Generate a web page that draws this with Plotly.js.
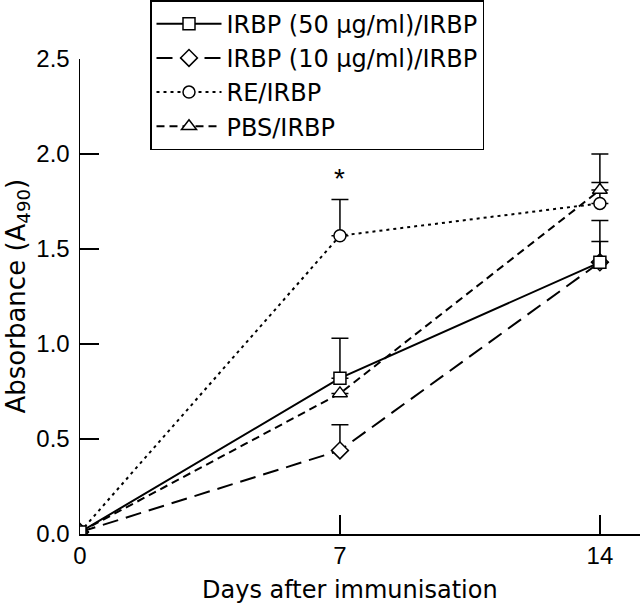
<!DOCTYPE html>
<html>
<head>
<meta charset="utf-8">
<script src="https://cdn.plot.ly/plotly-3.0.1.min.js"></script>
<style>html,body{margin:0;padding:0;background:#fff;}#chart{width:640px;height:606px;}</style>
</head>
<body>
<div id="chart"></div>
<script>
const days = [0, 7, 14];
const seriesNames = ["IRBP (50 µg/ml)/IRBP", "IRBP (10 µg/ml)/IRBP", "RE/IRBP", "PBS/IRBP"];
const irbp50 = [0.01, 0.82, 1.43];
const irbp50Err = [null, 0.21, 0.22];
const irbp10 = [0.01, 0.44, 1.43];
const irbp10Err = [null, 0.135, 0.11];
const reIrbp = [0.01, 1.57, 1.74];
const reIrbpErr = [null, 0.19, 0.11];
const pbsIrbp = [0.01, 0.74, 1.81];
const pbsIrbpErr = [null, null, 0.19];
const xTicks = [0, 7, 14];
const yTicks = [0, 0.5, 1.0, 1.5, 2.0, 2.5];

const FONT = "Liberation Sans, Arial, sans-serif";
const WIDE = "DejaVu Sans, Verdana, sans-serif";
function mk(name, y, err, dash, symbol, rank, msize) {
  return {
    x: days, y: y, name: name, type: "scatter", mode: "lines+markers",
    legendrank: rank,
    line: {color: "black", width: 2, dash: dash},
    marker: {symbol: symbol, size: msize, color: "white", line: {color: "black", width: 1.5}},
    error_y: {type: "data", array: err, symmetric: false, arrayminus: [0,0,0],
              color: "black", thickness: 1.5, width: 8.5}
  };
}
const traces = [
  mk(seriesNames[2], reIrbp, reIrbpErr, "3px,4px", "circle", 3, 12),
  mk(seriesNames[3], pbsIrbp, pbsIrbpErr, "8px,5px", "triangle-up", 4, 13),
  mk(seriesNames[1], irbp10, irbp10Err, "16px,8px", "diamond", 2, 13),
  mk(seriesNames[0], irbp50, irbp50Err, "solid", "square", 1, 12)
];

const layout = {
  width: 640, height: 606,
  margin: {l: 80, r: 0, t: 59, b: 72},
  paper_bgcolor: "white", plot_bgcolor: "white",
  font: {family: FONT, color: "black", size: 24},
  showlegend: true,
  legend: {x: 0.125, y: 1.124, xanchor: "left", yanchor: "top",
           bgcolor: "white", bordercolor: "black", borderwidth: 1.5,
           font: {family: WIDE, size: 24, color: "black"}, itemwidth: 65,
           traceorder: "normal"},
  xaxis: {range: [0, 15.08], tickvals: xTicks, ticktext: xTicks.map(String),
          ticks: "inside", ticklen: 19, tickwidth: 1.5, tickcolor: "black",
          showline: true, linecolor: "black", linewidth: 1.5, mirror: false,
          showgrid: false, zeroline: false, tickfont: {size: 24}},
  yaxis: {range: [0, 2.5], tickvals: yTicks, ticktext: yTicks.map(v => v.toFixed(1)),
          ticks: "inside", ticklen: 19, tickwidth: 1.5, tickcolor: "black",
          showline: true, linecolor: "black", linewidth: 1.5, mirror: false,
          showgrid: false, zeroline: false, tickfont: {size: 24}, ticklabelstandoff: 4},
  annotations: [
    {x: 7, y: 1.87, xref: "x", yref: "y", text: "*", showarrow: false, font: {size: 28}},
    {x: 0, y: 0, xref: "paper", yref: "paper", text: "Days after immunisation",
     showarrow: false, font: {family: WIDE, size: 24}, xanchor: "center", yanchor: "middle"},
    {x: 0, y: 0, xref: "paper", yref: "paper", text: "Absorbance (A<sub>490</sub>)",
     textangle: -90, showarrow: false, font: {family: WIDE, size: 26},
     xanchor: "center", yanchor: "bottom"}
  ]
};
// pixel positions of the title annotations converted to paper coords
layout.annotations[1].x = (350 - 80) / 560;
layout.annotations[1].y = (534 - 590) / 475;
layout.annotations[2].x = (17 - 80) / 560;
layout.annotations[2].y = (534 - 416) / 475;

Plotly.newPlot("chart", traces, layout, {displayModeBar: false, staticPlot: true});
</script>
</body>
</html>
